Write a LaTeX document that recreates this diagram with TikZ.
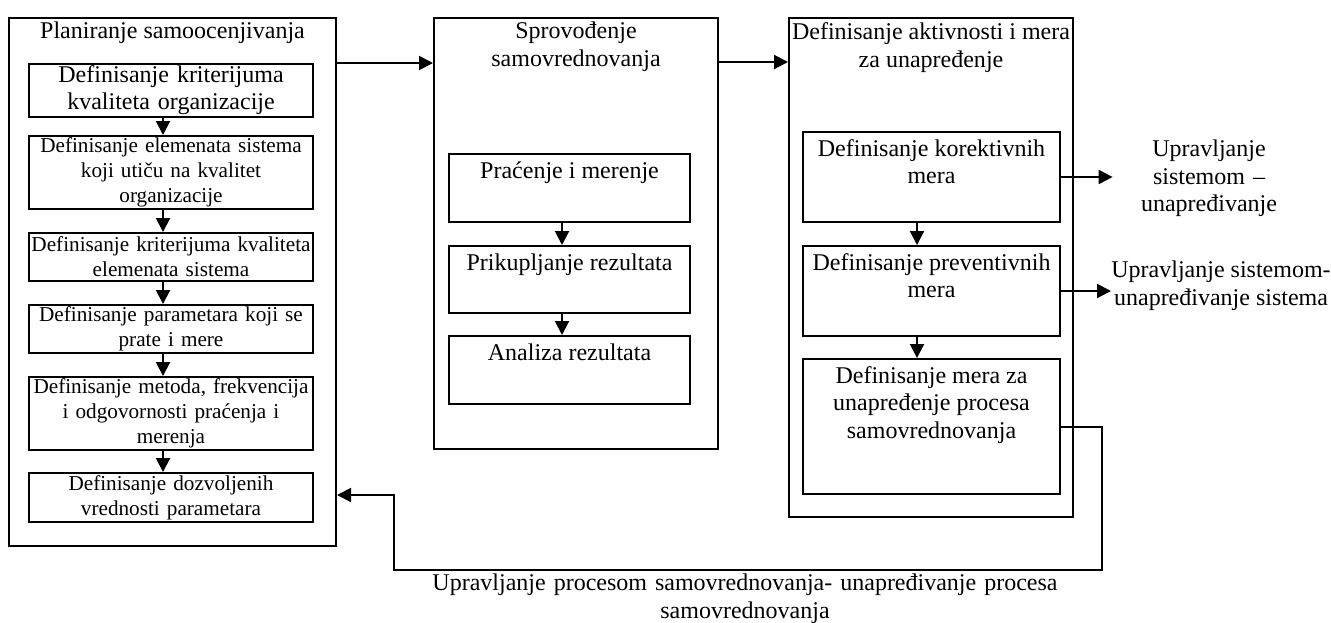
\documentclass[tikz,border=0pt]{standalone}
\usepackage{fontspec}
\setmainfont{Liberation Serif}
\usetikzlibrary{arrows.meta}

\begin{document}
\begin{tikzpicture}[
        x=0.5pt, y=-0.5pt,
        frame/.style={rectangle, draw, line width=1pt, inner sep=0pt, minimum width=142pt},
        box/.style={rectangle, draw, line width=1pt, inner sep=0pt, align=center},
        planbox/.style={box, text width=142pt, font=\fontsize{10.6}{12.5}\selectfont},
        txt/.style={align=center, inner sep=0pt, font=\fontsize{12}{13.8}\selectfont},
        toptxt/.style={txt, anchor=north, inner sep=4pt},
        arrow/.style={-{Triangle[length=7pt, width=7pt]}, line width=1pt}
    ]
        \useasboundingbox (0,0) rectangle (1331,622);

        % Frames of the three phases
        \node[frame, minimum width=163.5pt, minimum height=264pt] (plan) at (172.5,282) {};
        \node[frame, minimum height=215.5pt] (spr) at (576,233.5) {};
        \node[frame, minimum height=249.5pt] (def) at (931,267.5) {};

        % Titles
        \node[txt] (plan-t) at (172.5,33) {Planiranje samoocenjivanja};
        \node[txt] (spr-t) at (576,46.5) {Sprovođenje\\samovrednovanja};
        \node[txt] (def-t) at (931,47.5) {Definisanje aktivnosti i mera\\za unapređenje};

        % Planning steps - left column
        \node[planbox, font=\fontsize{12}{13.5}\selectfont, minimum height=26.5pt] (p1) at (171,90.5) {Definisanje kriterijuma\\kvaliteta organizacije};
        \node[planbox, minimum height=36.5pt] (p2) at (171,172.5) {Definisanje elemenata sistema\\koji utiču na kvalitet\\organizacije};
        \node[planbox, minimum height=24pt] (p3) at (171,257) {Definisanje kriterijuma kvaliteta\\elemenata sistema};
        \node[planbox, minimum height=24pt] (p4) at (171,329) {Definisanje parametara koji se\\prate i mere};
        \node[planbox, minimum height=36.5pt] (p5) at (171,413.5) {Definisanje metoda, frekvencija\\i odgovornosti praćenja i\\merenja};
        \node[planbox, minimum height=24.5pt] (p6) at (171,497.5) {Definisanje dozvoljenih\\vrednosti parametara};

        % Self-evaluation steps - middle column
        \node[box, minimum width=120.5pt, minimum height=34pt] (pm) at (569.5,188) {};
        \node[box, minimum width=120.5pt, minimum height=33.5pt] (pr) at (569.5,279.5) {};
        \node[box, minimum width=120.5pt, minimum height=34pt] (ar) at (569.5,370) {};
        \node[toptxt] (pm-t) at (pm.north) {Praćenje i merenje};
        \node[toptxt] (pr-t) at (pr.north) {Prikupljanje rezultata};
        \node[toptxt] (ar-t) at (ar.north) {Analiza rezultata};

        % Improvement measures - right column
        \node[box, minimum width=128.5pt, minimum height=45pt] (kor) at (931.5,177) {};
        \node[box, minimum width=128.5pt, minimum height=45pt] (prev) at (931.5,291) {};
        \node[box, minimum width=128.5pt, minimum height=67.5pt] (unp) at (931.5,426.5) {};
        \node[toptxt] (kor-t) at (kor.north) {Definisanje korektivnih\\mera};
        \node[toptxt] (prev-t) at (prev.north) {Definisanje preventivnih\\mera};
        \node[toptxt] (unp-t) at (unp.north) {Definisanje mera za\\unapređenje procesa\\samovrednovanja};

        % Outputs
        \node[txt, text width=96pt] (lab1) at (1209,178.5) {Upravljanje\\sistemom –\\unapređivanje};
        \node[txt, anchor=west] (lab2) at (1111,286) {Upravljanje sistemom-\\unapređivanje sistema};
        \node[txt, text width=330pt] (fb-t) at (745,599) {Upravljanje procesom samovrednovanja- unapređivanje procesa\\samovrednovanja};

        % Connections between phases
        \draw[arrow] ([yshift=-23pt]plan.north east) -- ([yshift=-23pt]spr.north west);
        \draw[arrow] ([yshift=-22.5pt]spr.north east) -- ([yshift=-22.5pt]def.north west);

        % Connections inside columns
        \foreach \a/\b in {p1/p2, p2/p3, p3/p4, p4/p5, p5/p6} {
            \draw[arrow] ([xshift=-4pt]\a.south) -- ([xshift=-4pt]\b.north);
        }
        \foreach \a/\b in {pm/pr, pr/ar} {
            \draw[arrow] ([xshift=-3.75pt]\a.south) -- ([xshift=-3.75pt]\b.north);
        }
        \foreach \a/\b in {kor/prev, prev/unp} {
            \draw[arrow] ([xshift=-7.25pt]\a.south) -- ([xshift=-7.25pt]\b.north);
        }

        % Outputs and feedback
        \draw[arrow] (kor.east) -- (kor.east -| lab1.west);
        \draw[arrow] (prev.east) -- (prev.east -| lab2.west);
        \coordinate (fb1) at (1101.5,570);
        \coordinate (fb2) at (394,495);
        \draw[arrow] (unp.east) -| (fb1) -| (fb2) -- (fb2 -| plan.east);
    \end{tikzpicture}
\end{document}
